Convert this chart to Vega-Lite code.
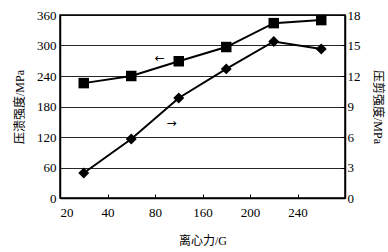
{
  "$schema": "https://vega.github.io/schema/vega-lite/v6.json",
  "width": 285,
  "height": 183,
  "autosize": {"type": "none"},
  "padding": {"left": 60, "top": 15, "right": 43, "bottom": 54},
  "background": "white",
  "config": {
    "font": "Times New Roman, Liberation Serif, serif",
    "view": {"stroke": "black", "strokeWidth": 1.5},
    "axis": {
      "labelFont": "Times New Roman, Liberation Serif, serif",
      "labelFontSize": 13,
      "labelColor": "black",
      "titleFont": "Times New Roman, Liberation Serif, Noto Sans CJK SC, serif",
      "titleFontSize": 12,
      "titleFontWeight": "normal",
      "titleColor": "black",
      "domainColor": "black",
      "domainWidth": 1.5,
      "tickColor": "black"
    }
  },
  "datasets": {
    "main": [
      {"force": 40, "crush": 226, "shear": 2.46},
      {"force": 80, "crush": 240, "shear": 5.8},
      {"force": 120, "crush": 269, "shear": 9.84},
      {"force": 160, "crush": 297, "shear": 12.7},
      {"force": 200, "crush": 344, "shear": 15.4},
      {"force": 240, "crush": 350, "shear": 14.66}
    ],
    "notes": [
      {"force": 104, "crush": 275, "label": "←"},
      {"force": 114, "crush": 148, "label": "→"}
    ]
  },
  "encoding": {
    "x": {
      "field": "force",
      "type": "quantitative",
      "scale": {"domain": [20, 260], "nice": false, "zero": false},
      "axis": {
        "title": "离心力/G",
        "values": [20, 60, 100, 140, 180, 220],
        "labelExpr": "datum.value == 20 ? '20' : datum.value == 60 ? '40' : datum.value == 100 ? '80' : datum.value == 140 ? '160' : datum.value == 180 ? '200' : '240'",
        "grid": false,
        "tickSize": -4,
        "labelPadding": 12,
        "titlePadding": 16
      }
    }
  },
  "layer": [
    {
      "data": {"name": "main"},
      "encoding": {
        "y": {
          "field": "crush",
          "type": "quantitative",
          "scale": {"domain": [0, 360], "nice": false},
          "axis": {
            "title": "压溃强度/MPa",
            "values": [0, 60, 120, 180, 240, 300, 360],
            "grid": true,
            "gridColor": "black",
            "gridWidth": 1,
            "gridOpacity": 0.85,
            "tickSize": 0,
            "labelPadding": 4,
            "titlePadding": 10
          }
        }
      },
      "layer": [
        {"mark": {"type": "line", "color": "black", "strokeWidth": 2}},
        {"mark": {"type": "point", "shape": "square", "filled": true, "color": "black", "opacity": 1, "size": 110}},
        {
          "data": {"name": "notes"},
          "mark": {"type": "text", "color": "black", "fontSize": 12, "font": "DejaVu Sans"},
          "encoding": {"text": {"field": "label"}}
        }
      ]
    },
    {
      "data": {"name": "main"},
      "encoding": {
        "y": {
          "field": "shear",
          "type": "quantitative",
          "scale": {"domain": [0, 18], "nice": false},
          "axis": {
            "title": "压剪强度/MPa",
            "orient": "right",
            "values": [0, 3, 6, 9, 12, 15, 18],
            "grid": false,
            "tickSize": -4,
            "labelPadding": 6,
            "titlePadding": 10
          }
        }
      },
      "layer": [
        {"mark": {"type": "line", "color": "black", "strokeWidth": 2}},
        {"mark": {"type": "point", "shape": "diamond", "filled": true, "color": "black", "opacity": 1, "size": 120}}
      ]
    }
  ],
  "resolve": {"scale": {"y": "independent"}}
}
